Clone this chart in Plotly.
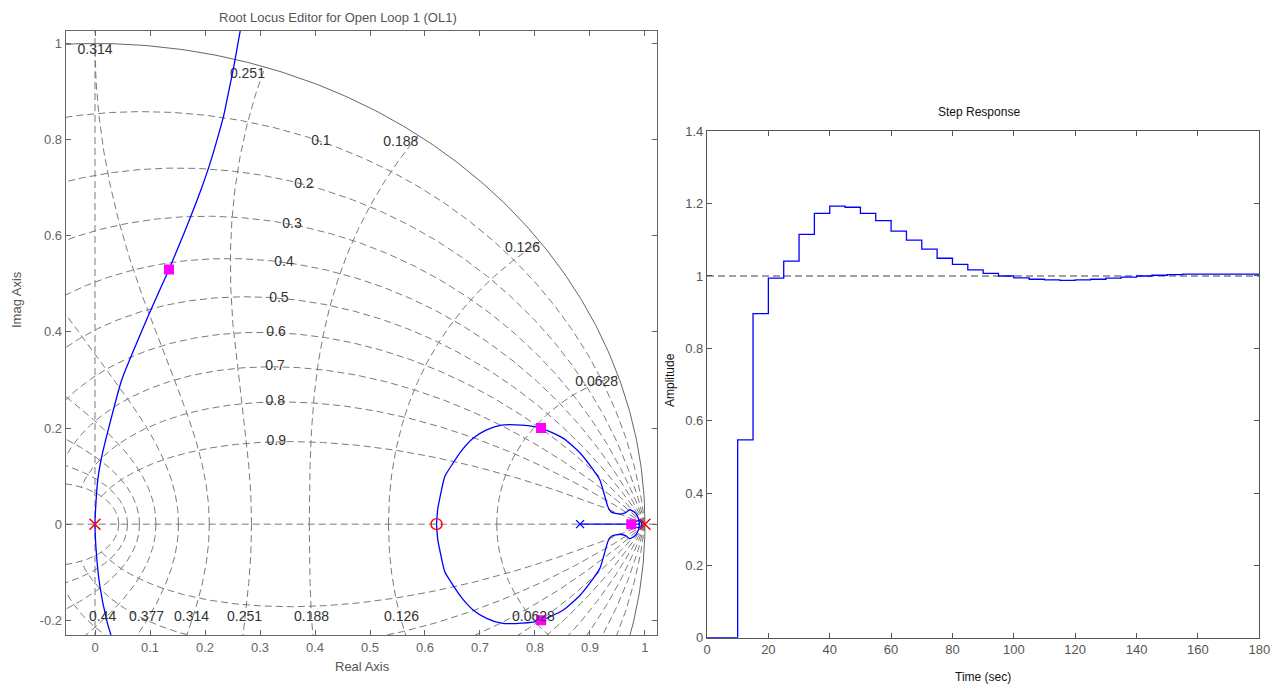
import numpy as np
import plotly.graph_objects as go

# ---------------- data ----------------
# Root locus (z-plane), branch through the origin
locus_main_re = [0.029, 0.021, 0.009, 0.003, 0.0, 0.002, 0.005, 0.011, 0.024, 0.0485, 0.075, 0.100, 0.1345, 0.160, 0.174, 0.194, 0.209, 0.222, 0.234, 0.243, 0.252, 0.264]
locus_main_im = [-0.231, -0.199, -0.130, -0.068, 0.0, 0.050, 0.092, 0.134, 0.196, 0.300, 0.375, 0.442, 0.530, 0.600, 0.640, 0.700, 0.750, 0.800, 0.850, 0.900, 0.950, 1.026]
# Loop around the zero (upper half; lower half is its mirror image)
locus_loop_re = [0.621, 0.623, 0.628, 0.636, 0.647, 0.668, 0.688, 0.712, 0.739, 0.776, 0.811, 0.851, 0.882, 0.906, 0.918, 0.926, 0.933, 0.939, 0.955, 0.965, 0.972, 0.982, 0.988, 0.990]
locus_loop_im = [0.0, 0.030, 0.060, 0.099, 0.120, 0.155, 0.179, 0.196, 0.206, 0.206, 0.200, 0.179, 0.148, 0.113, 0.092, 0.062, 0.035, 0.025, 0.021, 0.024, 0.030, 0.024, 0.012, 0.0]
# Real-axis segment
locus_real_re = [0.882, 0.990]
locus_real_im = [0.0, 0.0]

cl_pole_re = [0.1345, 0.811, 0.811, 0.975]
cl_pole_im = [0.530, 0.200, -0.200, 0.0]
plant_pole_re = [0.0, 1.0]
plant_pole_im = [0.0, 0.0]
plant_zero_re = [0.621]
plant_zero_im = [0.0]
comp_pole_re = [0.882]
comp_pole_im = [0.0]
comp_zero_re = [0.988]
comp_zero_im = [0.0]

# z-grid (zgrid) parameters
zeta_values = [0.1, 0.2, 0.3, 0.4, 0.5, 0.6, 0.7, 0.8, 0.9]
zeta_labels = ["0.1", "0.2", "0.3", "0.4", "0.5", "0.6", "0.7", "0.8", "0.9"]
wn_fraction = [0.1, 0.2, 0.3, 0.4, 0.5, 0.6, 0.7, 0.8, 0.9, 1.0]  # of Nyquist
wn_labels = ["0.0628", "0.126", "0.188", "0.251", "0.314", "0.377", "0.44", "0.503", "0.565", "0.628"]

# Step response (sample time 5 s)
step_time = list(range(0, 181, 5))
step_amp = [0.0, 0.0, 0.547, 0.896, 0.994, 1.041, 1.115, 1.173, 1.193, 1.190,
            1.173, 1.153, 1.124, 1.099, 1.074, 1.049, 1.032, 1.017, 1.007, 1.000,
            0.995, 0.991, 0.989, 0.988, 0.989, 0.991, 0.994, 0.997, 1.000, 1.002,
            1.004, 1.005, 1.005, 1.005, 1.005, 1.005, 1.005]

left_xticks = [0, 0.1, 0.2, 0.3, 0.4, 0.5, 0.6, 0.7, 0.8, 0.9, 1]
left_yticks = [-0.2, 0, 0.2, 0.4, 0.6, 0.8, 1]
right_xticks = list(range(0, 181, 20))
right_yticks = [0, 0.2, 0.4, 0.6, 0.8, 1, 1.2, 1.4]

# ---------------- layout geometry ----------------
OFF = 8                 # page body margin
W, H = 1282 - OFF, 690 - OFF
XR1 = [-0.0533, 1.0224]
YR1 = [-0.2306, 1.026]

def PX(px):
    return (px - OFF) / W

def PY(py):
    return 1 - (py - OFF) / H

def fmt(v):
    return "%g" % v

fig = go.Figure()

GRID = "#7a7a7a"
DASH = "7px,4px"

# --- zgrid lines ---
gx, gy = [], []
for z in zeta_values:
    w = np.linspace(0, np.pi, 400)
    p = np.exp(w * (-z + 1j * np.sqrt(1 - z * z)))
    for q in (p, np.conj(p)):
        gx += list(q.real) + [None]
        gy += list(q.imag) + [None]
for f in wn_fraction:
    wn = f * np.pi
    phi = np.linspace(0, np.pi / 2, 300)
    p = np.exp(wn * (-np.cos(phi) + 1j * np.sin(phi)))
    for q in (p, np.conj(p)):
        gx += list(q.real) + [None]
        gy += list(q.imag) + [None]
# real and imaginary axes
gx += [XR1[0] - 0.1, XR1[1] + 0.1, None, 0, 0, None]
gy += [0, 0, None, YR1[0] - 0.1, YR1[1] + 0.1, None]
fig.add_trace(go.Scatter(x=gx, y=gy, mode="lines", line=dict(color=GRID, width=1, dash=DASH),
                         hoverinfo="skip", showlegend=False, xaxis="x", yaxis="y"))

# unit circle
th = np.linspace(0, 2 * np.pi, 721)
fig.add_trace(go.Scatter(x=np.cos(th), y=np.sin(th), mode="lines", line=dict(color="#666666", width=1),
                         hoverinfo="skip", showlegend=False, xaxis="x", yaxis="y"))

# --- grid labels ---
lab_font = dict(family="Liberation Sans, Arial, sans-serif", size=14, color="#333333")
zx, zy = [], []
for z in zeta_values:
    p = np.exp(1.1 * (-z + 1j * np.sqrt(1 - z * z)))
    zx.append(p.real); zy.append(p.imag)
fig.add_trace(go.Scatter(x=zx, y=zy, mode="text", text=zeta_labels, textposition="middle center",
                         textfont=lab_font, hoverinfo="skip", showlegend=False, xaxis="x", yaxis="y"))
ux, uy, ut, up = [], [], [], []
for f, lab in zip(wn_fraction, wn_labels):
    p = np.exp(1j * f * np.pi)
    if XR1[0] - 0.01 <= p.real <= XR1[1] and p.imag <= YR1[1]:
        ux.append(p.real); uy.append(p.imag); ut.append(lab)
        up.append("bottom left" if p.real > 0.05 else "bottom center")
fig.add_trace(go.Scatter(x=ux, y=uy, mode="text", text=ut, textposition=up,
                         textfont=lab_font, hoverinfo="skip", showlegend=False, xaxis="x", yaxis="y"))
for f, lab in zip(wn_fraction, wn_labels):
    wn = f * np.pi
    phi = np.linspace(0, np.pi / 2, 4000)
    p = np.conj(np.exp(wn * (-np.cos(phi) + 1j * np.sin(phi))))
    idx = np.where(p.imag <= -0.2)[0]
    if len(idx) == 0:
        continue
    q = p[idx[0]]
    if q.real < XR1[0] + 0.03:
        continue
    fig.add_annotation(x=q.real, y=-0.2, xref="x", yref="y", text=lab, showarrow=False,
                       font=lab_font, yshift=4)

# --- root locus ---
BLUE = "#0000ff"
for xs, ys in ((locus_main_re, locus_main_im),
               (locus_loop_re, locus_loop_im),
               (locus_loop_re, [-v for v in locus_loop_im]),
               (locus_real_re, locus_real_im)):
    fig.add_trace(go.Scatter(x=xs, y=ys, mode="lines", line=dict(color=BLUE, width=1.3, shape="spline", smoothing=0.6),
                             hoverinfo="skip", showlegend=False, xaxis="x", yaxis="y"))
fig.add_trace(go.Scatter(x=comp_zero_re, y=comp_zero_im, mode="markers",
                         marker=dict(symbol="circle-open", size=7, color=BLUE, line=dict(width=1.3)),
                         hoverinfo="skip", showlegend=False, xaxis="x", yaxis="y"))
fig.add_trace(go.Scatter(x=comp_pole_re, y=comp_pole_im, mode="markers",
                         marker=dict(symbol="x-thin-open", size=8, color=BLUE, line=dict(width=1.3, color=BLUE)),
                         hoverinfo="skip", showlegend=False, xaxis="x", yaxis="y"))
fig.add_trace(go.Scatter(x=cl_pole_re, y=cl_pole_im, mode="markers",
                         marker=dict(symbol="square", size=10, color="#ff00ff"),
                         hoverinfo="skip", showlegend=False, xaxis="x", yaxis="y"))
fig.add_trace(go.Scatter(x=plant_pole_re, y=plant_pole_im, mode="markers",
                         marker=dict(symbol="x-thin-open", size=11, color="#ff0000", line=dict(width=1.5, color="#ff0000")),
                         hoverinfo="skip", showlegend=False, xaxis="x", yaxis="y"))
fig.add_trace(go.Scatter(x=plant_zero_re, y=plant_zero_im, mode="markers",
                         marker=dict(symbol="circle-open", size=11, color="#ff0000", line=dict(width=1.4)),
                         hoverinfo="skip", showlegend=False, xaxis="x", yaxis="y"))

# --- step response ---
fig.add_trace(go.Scatter(x=[0, 180], y=[1, 1], mode="lines", line=dict(color="#444444", width=1, dash=DASH),
                         hoverinfo="skip", showlegend=False, xaxis="x2", yaxis="y2"))
fig.add_trace(go.Scatter(x=step_time, y=step_amp, mode="lines", line=dict(color=BLUE, width=1.3, shape="hv"),
                         hoverinfo="skip", showlegend=False, xaxis="x2", yaxis="y2"))

# ---------------- axes ----------------
tick_font_l = dict(family="Liberation Sans, Arial, sans-serif", size=13, color="#666666")
tick_font_r = dict(family="Liberation Sans, Arial, sans-serif", size=13, color="#555555")
common = dict(showgrid=False, zeroline=False, showline=True, mirror="ticks", ticks="inside",
              ticklen=5, tickwidth=1, automargin=False)

fig.update_layout(
    width=W, height=H, margin=dict(l=0, r=0, t=0, b=0),
    paper_bgcolor="white", plot_bgcolor="white",
    xaxis=dict(domain=[PX(65.7), PX(657.3)], range=XR1, tickvals=left_xticks,
               ticktext=[fmt(v) for v in left_xticks], tickfont=tick_font_l,
               linecolor="#666666", tickcolor="#666666", linewidth=1.2, anchor="y", **common),
    yaxis=dict(domain=[PY(635), PY(31)], range=YR1, tickvals=left_yticks,
               ticktext=[fmt(v) for v in left_yticks], tickfont=tick_font_l,
               linecolor="#666666", tickcolor="#666666", linewidth=1.2, anchor="x", **common),
    xaxis2=dict(domain=[PX(707), PX(1259.3)], range=[0, 180], tickvals=right_xticks,
                ticktext=[fmt(v) for v in right_xticks], tickfont=tick_font_r,
                linecolor="#555555", tickcolor="#555555", linewidth=1.2, anchor="y2",
                layer="below traces", **common),
    yaxis2=dict(domain=[PY(637.7), PY(131.3)], range=[0, 1.4], tickvals=right_yticks,
                ticktext=[fmt(v) for v in right_yticks], tickfont=tick_font_r,
                linecolor="#555555", tickcolor="#555555", linewidth=1.2, anchor="x2",
                layer="below traces", **common),
)

def ann(text, px, py, size, color, angle=0, yanchor="middle"):
    fig.add_annotation(x=PX(px), y=PY(py), xref="paper", yref="paper", text=text,
                       showarrow=False, textangle=angle, xanchor="center", yanchor=yanchor,
                       font=dict(family="Liberation Sans, Arial, sans-serif", size=size, color=color))

ann("Root Locus Editor for Open Loop 1 (OL1)", 338, 8, 13, "#555555", yanchor="top")
ann("Real Axis", 362, 666, 13, "#555555")
ann("Imag Axis", 16, 300, 13, "#555555", -90)
ann("Step Response", 979, 112, 12, "#111111")
ann("Time (sec)", 983, 677, 12, "#111111")
ann("Amplitude", 670, 380, 12, "#111111", -90)

fig.write_html("out.html")
